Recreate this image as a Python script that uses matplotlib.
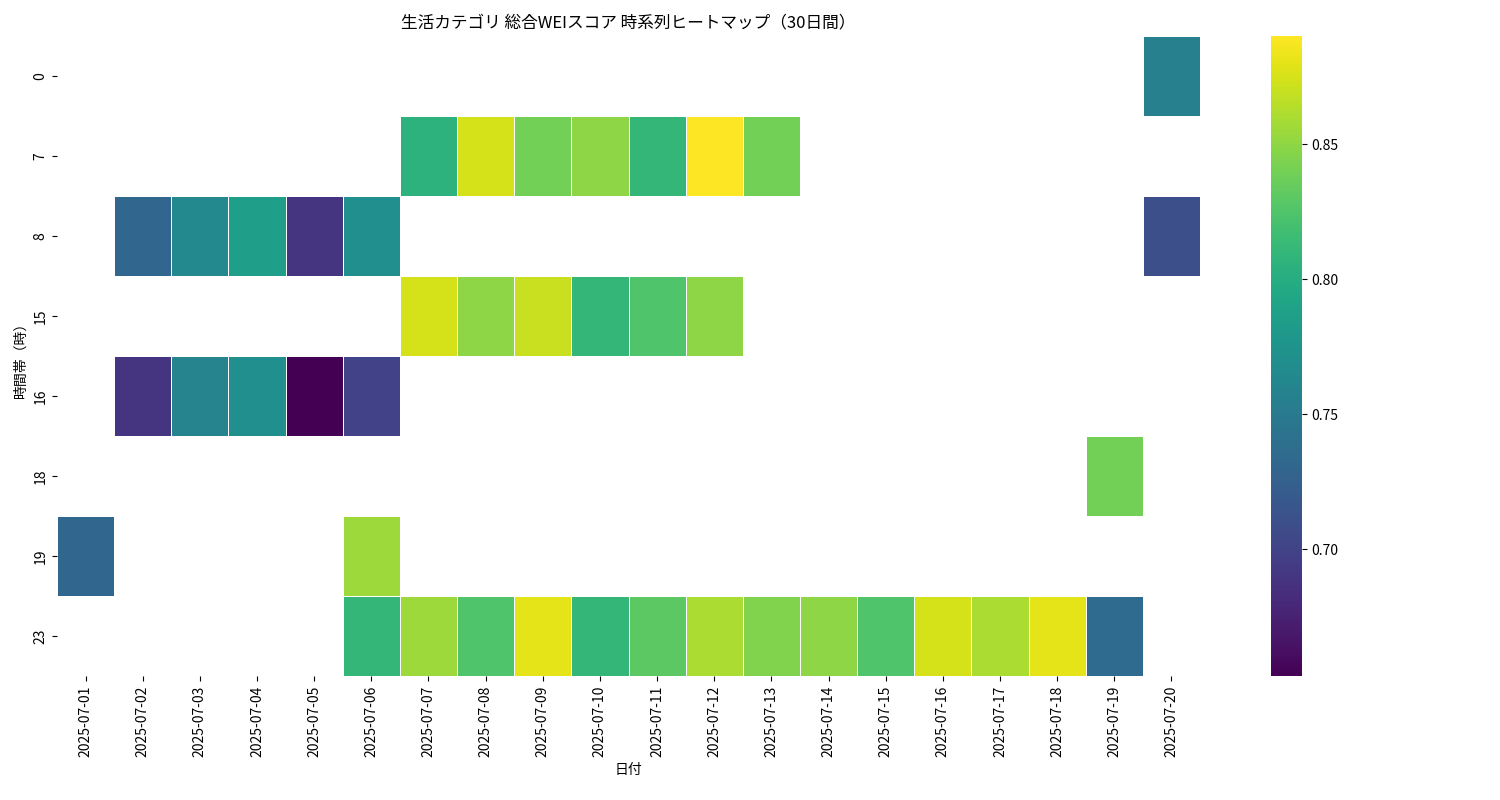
import numpy as np, pandas as pd
import matplotlib
matplotlib.use("Agg")
import matplotlib.pyplot as plt
import seaborn as sns
plt.rcParams["font.family"] = ["Noto Sans CJK JP", "DejaVu Sans"]

dates = [f"2025-07-{d:02d}" for d in range(1, 21)]
hours = [0, 7, 8, 15, 16, 18, 19, 23]
h0  = {"2025-07-20": 0.755}
h7  = dict(zip(dates[6:13], [0.805, 0.875, 0.84, 0.85, 0.81, 0.89, 0.84]))
h8  = dict(zip(dates[1:6], [0.73, 0.765, 0.785, 0.69, 0.77])); h8["2025-07-20"] = 0.71
h15 = dict(zip(dates[6:12], [0.875, 0.85, 0.87, 0.81, 0.825, 0.85]))
h16 = dict(zip(dates[1:6], [0.69, 0.76, 0.77, 0.653, 0.70]))
h18 = {"2025-07-19": 0.84}
h19 = {"2025-07-01": 0.73, "2025-07-06": 0.855}
h23 = dict(zip(dates[5:19], [0.81, 0.855, 0.825, 0.88, 0.81, 0.83, 0.86, 0.845,
                             0.85, 0.825, 0.875, 0.86, 0.88, 0.735]))
rows = [h0, h7, h8, h15, h16, h18, h19, h23]

df = pd.DataFrame([[r.get(d, np.nan) for d in dates] for r in rows], index=hours, columns=dates)

fig = plt.figure(figsize=(15, 8), dpi=100)
ax = fig.add_axes([0.038, 0.155, 0.762, 0.8])
cax = fig.add_axes([0.847, 0.155, 0.021, 0.8])
sns.heatmap(df, cmap="viridis", linewidths=0.5, linecolor="white", ax=ax, cbar_ax=cax)
ax.set_title("生活カテゴリ 総合WEIスコア 時系列ヒートマップ（30日間）", fontsize=12)
ax.set_xlabel("日付")
ax.set_ylabel("時間帯（時）")
ax.set_xticklabels(dates, rotation=90)
cax.tick_params(labelsize=10)
fig.savefig("out.png")
